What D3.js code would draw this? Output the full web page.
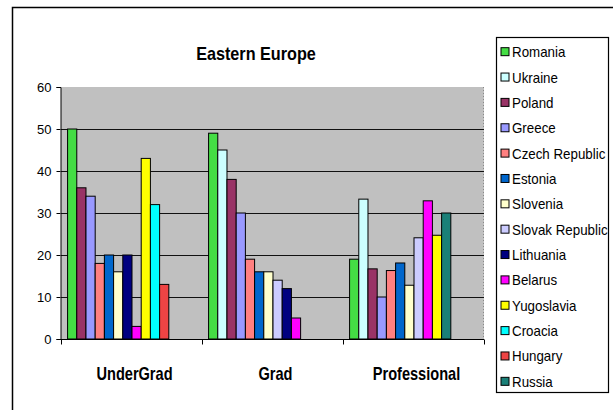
<!DOCTYPE html>
<html><head><meta charset="utf-8">
<script src="https://cdn.jsdelivr.net/npm/d3@7"></script>
<style>body{margin:0;background:#fff;} svg{display:block;}</style>
</head><body>
<script>
const categories = ["UnderGrad", "Grad", "Professional"];
const seriesNames = ["Romania","Ukraine","Poland","Greece","Czech Republic","Estonia","Slovenia","Slovak Republic","Lithuania","Belarus","Yugoslavia","Croacia","Hungary","Russia"];
const seriesColors = ["#44DD44","#CCFFFF","#993366","#9999FF","#FF8080","#0066CC","#FFFFCC","#CCCCFF","#000080","#FF00FF","#FFFF00","#00FFFF","#EE4444","#1A8078"];
// values per series: [UnderGrad, Grad, Professional]; null = no bar
const romania   = [50, 49, 19];
const ukraine   = [null, 45, 33.3];
const poland    = [36, 38, 16.7];
const greece    = [34, 30, 10];
const czech     = [18, 19, 16.3];
const estonia   = [20, 16, 18.1];
const slovenia  = [16, 16, 12.8];
const slovak    = [null, 14, 24.1];
const lithuania = [20, 12, null];
const belarus   = [3, 5, 32.9];
const yugoslavia= [43, null, 24.7];
const croacia   = [32, null, null];
const hungary   = [13, null, null];
const russia    = [null, null, 30];
const yTicks = [0, 10, 20, 30, 40, 50, 60];
const title = "Eastern Europe";

const seriesValues = [romania, ukraine, poland, greece, czech, estonia, slovenia, slovak, lithuania, belarus, yugoslavia, croacia, hungary, russia];

const W = 613, H = 410;
const svg = d3.select("body").append("svg").attr("width", W).attr("height", H);

// outer frame
svg.append("rect").attr("x", 12.5).attr("y", 7.5).attr("width", 640).attr("height", 440)
  .attr("fill", "#fff").attr("stroke", "#000").attr("stroke-width", 1.5);

const plot = {left: 61, right: 484, top: 87, bottom: 339};

const x0 = d3.scaleBand().domain(categories).range([plot.left, plot.right]).padding(0);
const x1 = d3.scaleBand().domain(d3.range(seriesNames.length)).range([0, x0.bandwidth()]).paddingInner(0).paddingOuter(0.66);
const y = d3.scaleLinear().domain([0, 60]).range([plot.bottom, plot.top]);

// plot background
svg.append("rect").attr("x", plot.left).attr("y", plot.top)
  .attr("width", plot.right - plot.left).attr("height", plot.bottom - plot.top)
  .attr("fill", "#C0C0C0");
svg.append("line").attr("x1", plot.right - 0.5).attr("x2", plot.right - 0.5)
  .attr("y1", plot.top).attr("y2", plot.bottom)
  .attr("stroke", "#888").attr("stroke-dasharray", "1,2");

// gridlines
svg.append("g").selectAll("line").data(yTicks.filter(t => t > 0 && t < 60)).join("line")
  .attr("x1", plot.left).attr("x2", plot.right)
  .attr("y1", d => Math.round(y(d)) + 0.5).attr("y2", d => Math.round(y(d)) + 0.5)
  .attr("stroke", "#111").attr("stroke-width", 1);

// bars: per category, non-null series packed into slots
const barData = [];
categories.forEach((c, ci) => {
  let slot = 0;
  seriesValues.forEach((vals, si) => {
    if (vals[ci] != null) { barData.push({c, si, v: vals[ci], slot}); slot++; }
  });
});
svg.append("g").selectAll("rect").data(barData).join("rect")
  .attr("x", d => x0(d.c) + x1(d.slot) + 0.5)
  .attr("y", d => y(d.v))
  .attr("width", x1.bandwidth())
  .attr("height", d => y(0) - y(d.v))
  .attr("fill", d => seriesColors[d.si])
  .attr("stroke", "#000").attr("stroke-width", 1);

// y axis
const yAxis = d3.axisLeft(y).tickValues(yTicks).tickSize(4).tickPadding(5);
const gy = svg.append("g").attr("transform", `translate(${plot.left - 0.5},0)`).call(yAxis);
gy.selectAll("text").attr("font-family", "'Liberation Sans', Arial, sans-serif").attr("font-size", 13).attr("fill", "#000");
gy.selectAll("line, path").attr("stroke", "#000");

// x axis
const gx = svg.append("g").attr("transform", `translate(0,${plot.bottom + 0.5})`);
gx.append("line").attr("x1", plot.left).attr("x2", plot.right).attr("stroke", "#000");
gx.selectAll("line.tk").data(categories.map(c => x0(c)).concat([plot.right])).join("line").attr("class", "tk")
  .attr("x1", d => Math.round(d) + 0.5).attr("x2", d => Math.round(d) + 0.5)
  .attr("y1", 0).attr("y2", 5).attr("stroke", "#000");
gx.selectAll("text").data(categories).join("text")
  .attr("transform", d => `translate(${x0(d) + x0.bandwidth() / 2 + 3},40) scale(0.81,1)`)
  .attr("text-anchor", "middle")
  .attr("font-family", "'Liberation Sans', Arial, sans-serif")
  .attr("font-weight", "bold").attr("font-size", 18)
  .text(d => d);

// title
svg.append("text").attr("transform", "translate(256,60) scale(0.9,1)").attr("text-anchor", "middle")
  .attr("font-family", "'Liberation Sans', Arial, sans-serif").attr("font-size", 18).attr("font-weight", "bold")
  .text(title);

// legend
const lg = {x: 496.5, y: 37.5, w: 112, h: 355};
svg.append("rect").attr("x", lg.x).attr("y", lg.y).attr("width", lg.w).attr("height", lg.h)
  .attr("fill", "#fff").attr("stroke", "#000").attr("stroke-width", 1.2);
const ly = d3.scaleBand().domain(seriesNames).range([lg.y + 2, lg.y + lg.h + 2]);
const items = svg.append("g").selectAll("g").data(seriesNames).join("g")
  .attr("transform", d => `translate(${lg.x}, ${ly(d) + ly.bandwidth() / 2})`);
items.append("rect").attr("x", 4.5).attr("y", -4.5).attr("width", 8).attr("height", 8)
  .attr("fill", (d, i) => seriesColors[i]).attr("stroke", "#000").attr("stroke-width", 1);
items.append("text").attr("transform", "translate(15.5,5) scale(0.92,1)")
  .attr("font-family", "'Liberation Sans', Arial, sans-serif").attr("font-size", 14.5)
  .text(d => d);
</script>
</body></html>
